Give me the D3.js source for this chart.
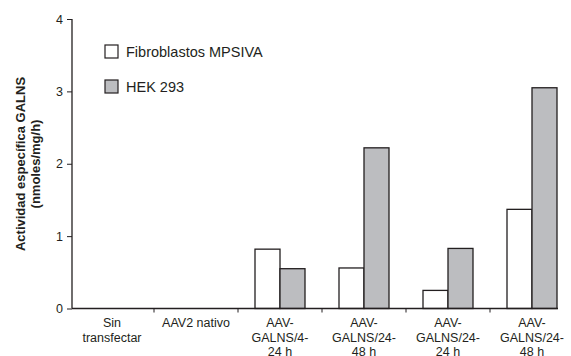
<!DOCTYPE html>
<html>
<head>
<meta charset="utf-8">
<script src="https://cdn.jsdelivr.net/npm/d3@7"></script>
<style>
  body { margin: 0; background: #fff; }
  svg { display: block; font-family: "Liberation Sans", Arial, sans-serif; }
</style>
</head>
<body>
<div id="chart"></div>
<script>
// categorias e valores
const categories = [
  ["Sin", "transfectar"],
  ["AAV2 nativo"],
  ["AAV-", "GALNS/4-", "24 h"],
  ["AAV-", "GALNS/24-", "48 h"],
  ["AAV-", "GALNS/24-", "24 h"],
  ["AAV-", "GALNS/24-", "48 h"],
];
const seriesNames = ["Fibroblastos MPSIVA", "HEK 293"];
const fibroblastos = [null, null, 0.82, 0.56, 0.25, 1.37];
const hek293 = [null, null, 0.55, 2.22, 0.83, 3.05];
const yTicks = [0, 1, 2, 3, 4];

const W = 571, H = 356;
const ink = "#231f20";
const fills = ["#ffffff", "#bcbdc0"];

const svg = d3.select("#chart").append("svg").attr("width", W).attr("height", H);

const x = d3.scaleBand().domain(d3.range(categories.length)).range([70, 574]).padding(0);
const xs = d3.scaleBand().domain([0, 1]).range([0, 50]);
const y = d3.scaleLinear().domain([0, 4]).range([308.5, 19]);

// barras
const series = [fibroblastos, hek293];
series.forEach((vals, s) => {
  svg.append("g")
    .selectAll("rect")
    .data(vals.map((v, i) => ({ v, i })).filter((d) => d.v != null))
    .join("rect")
    .attr("x", (d) => x(d.i) + (x.bandwidth() - 50) / 2 + xs(s))
    .attr("y", (d) => y(d.v))
    .attr("width", xs.bandwidth())
    .attr("height", (d) => y(0) - y(d.v))
    .attr("fill", fills[s])
    .attr("stroke", ink)
    .attr("stroke-width", 1.3);
});

// eixo y
const yAxis = svg.append("g").attr("transform", "translate(72,0)")
  .call(d3.axisLeft(y).tickValues(yTicks).tickSize(5).tickPadding(4).tickFormat(d3.format("d")));
yAxis.select(".domain").attr("d", `M0,${y(4)}V${y(0)}`).attr("stroke", ink).attr("stroke-width", 1.3);
yAxis.selectAll(".tick line").attr("stroke", ink).attr("stroke-width", 1);
yAxis.selectAll(".tick text").attr("fill", ink).attr("font-size", 12.5)
  .attr("font-family", "Liberation Sans, Arial, sans-serif");

// eixo x
svg.append("line").attr("x1", 72).attr("x2", 558).attr("y1", y(0)).attr("y2", y(0))
  .attr("stroke", ink).attr("stroke-width", 1.3);
svg.append("g").selectAll("line")
  .data(d3.range(1, categories.length))
  .join("line")
  .attr("x1", (i) => x(i)).attr("x2", (i) => x(i))
  .attr("y1", y(0)).attr("y2", y(0) + 4)
  .attr("stroke", ink).attr("stroke-width", 1);

const labels = svg.append("g").attr("fill", ink).attr("font-size", 12.5).attr("text-anchor", "middle");
categories.forEach((lines, i) => {
  const t = labels.append("text").attr("x", x(i) + x.bandwidth() / 2);
  lines.forEach((ln, k) => {
    t.append("tspan").attr("x", x(i) + x.bandwidth() / 2).attr("y", 327 + k * 14.5).text(ln);
  });
});

// titulo do eixo y
const yt = svg.append("text")
  .attr("transform", "translate(25,164) rotate(-90)")
  .attr("text-anchor", "middle").attr("font-size", 13).attr("font-weight", "bold").attr("fill", ink);
yt.append("tspan").attr("x", 0).attr("y", 0).text("Actividad específica GALNS");
yt.append("tspan").attr("x", 0).attr("y", 14.5).text("(nmoles/mg/h)");

// legenda
const legend = svg.append("g");
seriesNames.forEach((name, s) => {
  const ly = 45 + s * 35;
  legend.append("rect").attr("x", 105).attr("y", ly).attr("width", 13).attr("height", 13)
    .attr("fill", fills[s]).attr("stroke", ink).attr("stroke-width", 1.2);
  legend.append("text").attr("x", 126).attr("y", ly + 12).attr("font-size", 14.5)
    .attr("fill", ink).text(name);
});
</script>
</body>
</html>
